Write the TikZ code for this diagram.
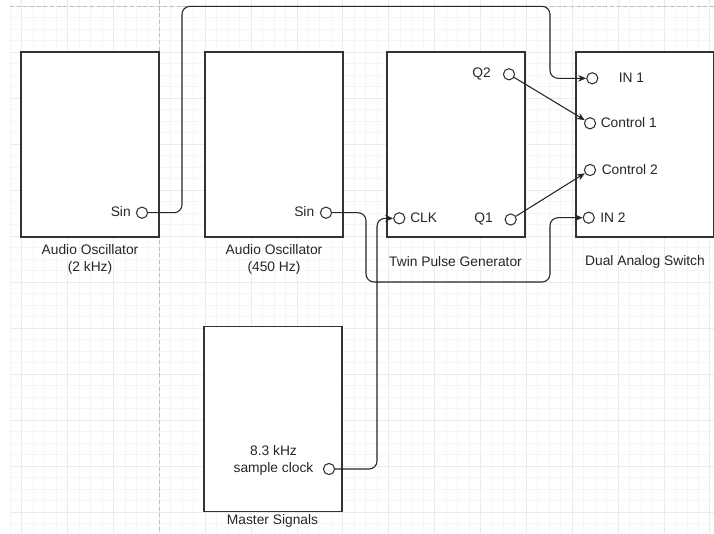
\documentclass[tikz,border=0pt]{standalone}
\usepackage{fontspec}
\setmainfont{Liberation Sans}
\usetikzlibrary{arrows.meta}
\begin{document}
\begin{tikzpicture}[x=0.75pt,y=-0.75pt,
  every node/.style={font=\fontsize{10.35pt}{12.75pt}\selectfont, text=black!85},
  box/.style={draw=black!80, line width=0.9pt, fill=white, minimum width=103.5pt, minimum height=138.75pt, inner sep=0pt},
  port/.style={circle, draw=black!80, line width=0.8pt, fill=white, minimum size=8.4pt, inner sep=0pt},
  wire/.style={draw=black!85, line width=0.8pt, rounded corners=6pt},
  arr/.style={-{Stealth[length=6pt,width=5pt]}},
  minorg/.style={draw=black!4, line width=0.6pt},
  majorg/.style={draw=black!8, line width=0.6pt},
  pagel/.style={draw=black!25, line width=0.7pt, dash pattern=on 3pt off 2pt},
  lbl/.style={inner sep=0pt}
]
\useasboundingbox (0,0) rectangle (714,533);
\fill[white] (0,0) rectangle (714,533);
% grid
\foreach \k in {0,...,61} {
  \pgfmathsetmacro{\xx}{10.2+11.47*\k}
  \pgfmathtruncatemacro{\m}{mod(\k,4)}
  \ifnum\m=1 \draw[majorg] (\xx,0) -- (\xx,533); \else \draw[minorg] (\xx,0) -- (\xx,533); \fi
}
\foreach \k in {0,...,45} {
  \pgfmathsetmacro{\yy}{6.3+11.5*\k}
  \pgfmathtruncatemacro{\m}{mod(\k,4)}
  \ifnum\m=0 \draw[majorg] (10,\yy) -- (714,\yy); \else \draw[minorg] (10,\yy) -- (714,\yy); \fi
}
\draw[pagel] (10,6.3) -- (714,6.3);
\draw[pagel] (159.5,0) -- (159.5,533);

% boxes
\node[box] (osc1) at (90,144.5) {};
\node[box] (osc2) at (274,144.5) {};
\node[box] (tpg) at (456,144.5) {};
\node[box] (das) at (645,144.5) {};
\node[box] (ms) at (273,418.8) {};

% box titles
\node[align=center] (osc1t) at (90,259.5) {Audio Oscillator\\(2 kHz)};
\node[align=center] (osc2t) at (274,259.5) {Audio Oscillator\\(450 Hz)};
\node (tpgt) at (455.5,262) {Twin Pulse Generator};
\node (dast) at (645,262) {Dual Analog Switch};
\node (mst) at (272.5,521) {Master Signals};

% ports
\node[port] (sin1) at (142,212.7) {};
\node[lbl, anchor=east] (sin1l) at (131,212) {Sin};
\node[port] (sin2) at (326,212.7) {};
\node[lbl, anchor=east] (sin2l) at (314.5,212) {Sin};
\node[port] (q2) at (509,74.3) {};
\node[lbl, anchor=east] (q2l) at (491,74) {Q2};
\node[port] (q1) at (510.7,219.5) {};
\node[lbl, anchor=east] (q1l) at (493,218.5) {Q1};
\node[port] (clk) at (399.3,218.3) {};
\node[lbl, anchor=west] (clkl) at (410,218) {CLK};
\node[port] (in1) at (592.3,78.3) {};
\node[lbl, anchor=west] (in1l) at (618.5,78) {IN 1};
\node[port] (ctl1) at (590,123.3) {};
\node[lbl, anchor=west] (ctl1l) at (600.5,123) {Control 1};
\node[port] (ctl2) at (590,170) {};
\node[lbl, anchor=west] (ctl2l) at (601.5,170) {Control 2};
\node[port] (in2) at (588.7,217.7) {};
\node[lbl, anchor=west] (in2l) at (600,217.5) {IN 2};
\node[port] (clock) at (329,469) {};
\node[lbl, align=center] (clockl) at (273.5,460) {8.3 kHz\\sample clock};

% connectors
\draw[wire,arr] (sin1.east) -| (182,6.3) -| (550,78.3) -- (in1.west);
\draw[wire,arr] (sin2.east) -| (366,282) -| (550,217.7) -- (in2.west);
\draw[wire,arr] (clock.east) -| (377,218.3) -- (clk.west);
\draw[wire,arr] (q2) -- (ctl1);
\draw[wire,arr] (q1) -- (ctl2);
\end{tikzpicture}
\end{document}
